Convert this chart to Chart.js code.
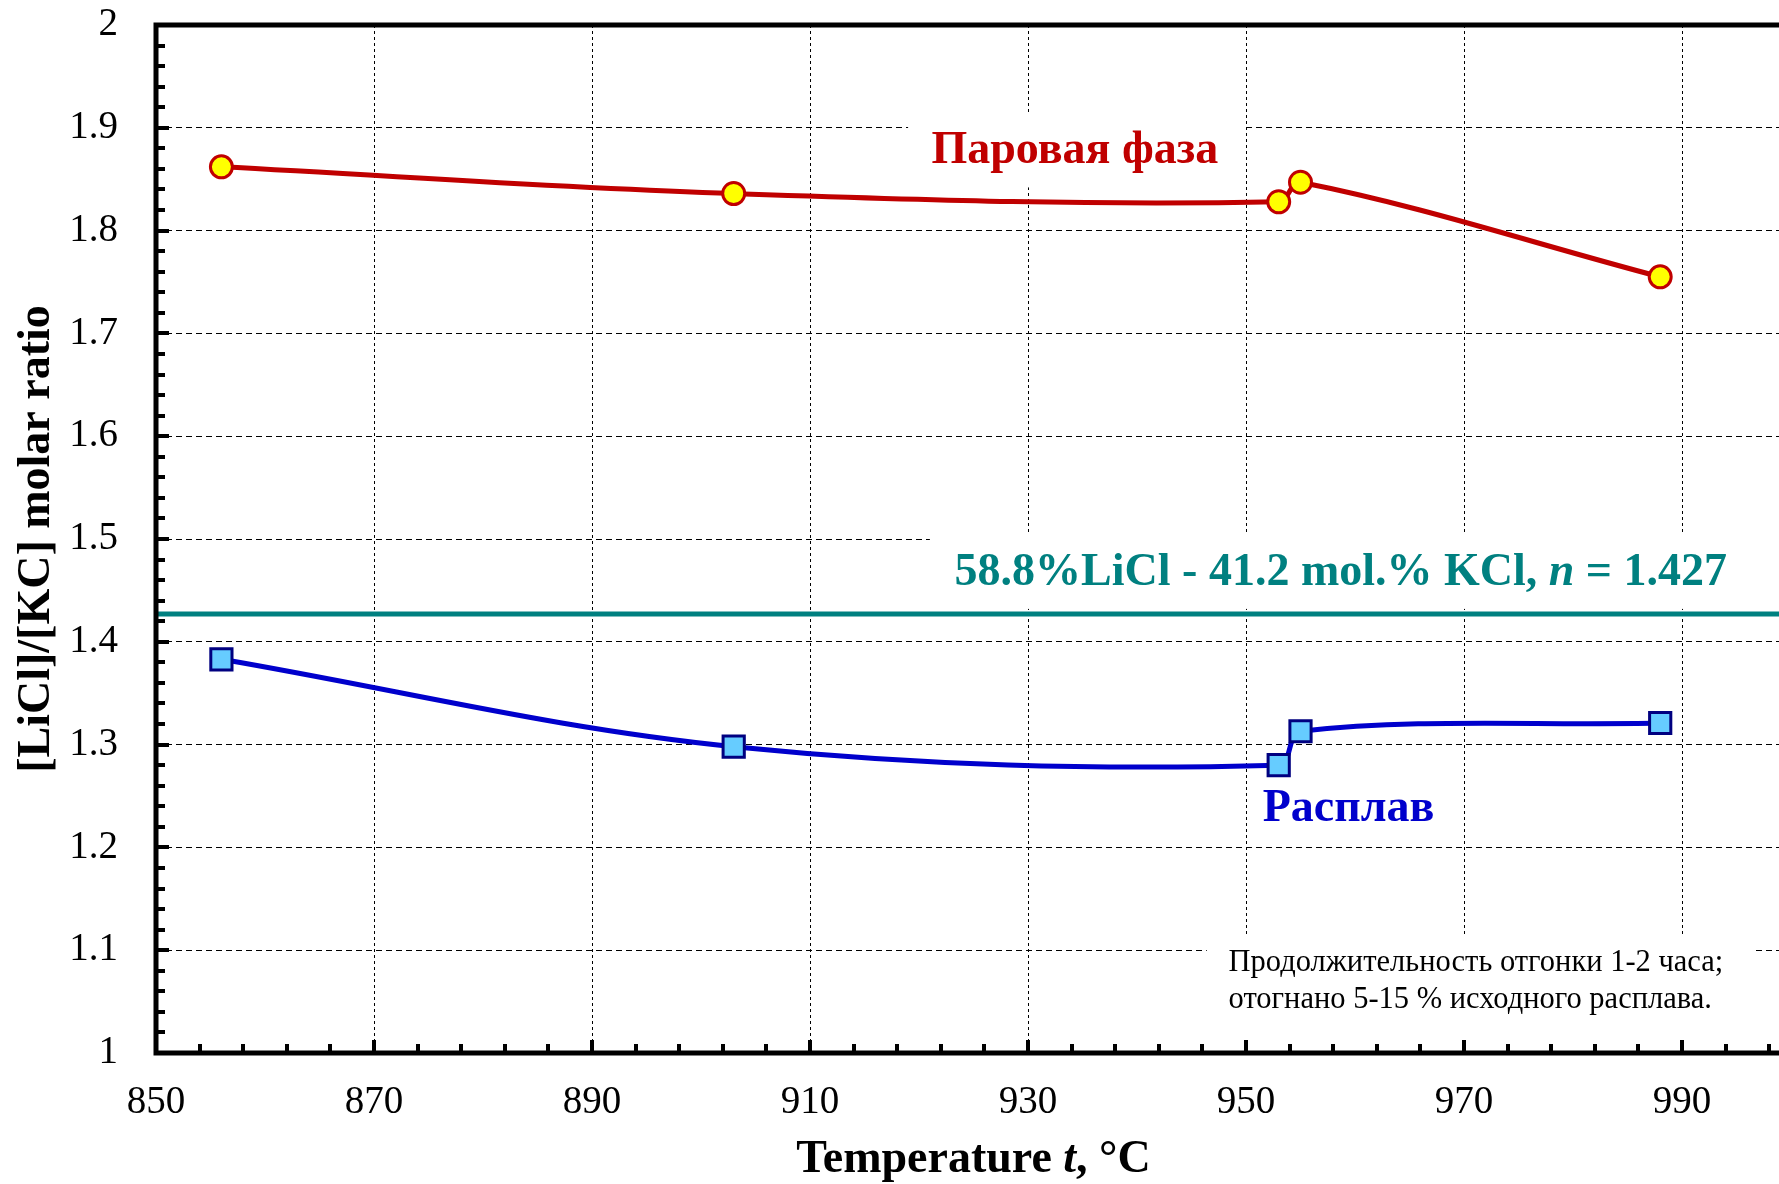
<!DOCTYPE html>
<html>
<head>
<meta charset="utf-8">
<script src="https://cdn.jsdelivr.net/npm/chart.js@4.4.1/dist/chart.umd.min.js"></script>
<style>
  html, body { margin: 0; padding: 0; background: #fff; overflow: hidden; }
</style>
</head>
<body>
<canvas id="chart" width="1800" height="1184"></canvas>
<script>
// temperatures, °C
const temps = [856, 903, 953, 955, 988];
// [LiCl]/[KCl] ratio in vapour and in melt
const vaporRatio = [1.862, 1.836, 1.828, 1.847, 1.755];
const meltRatio = [1.383, 1.298, 1.280, 1.313, 1.321];
// initial melt composition
const baseRatio = 1.427;
const baseSpan = [850, 1000];

const xTicks = [850, 870, 890, 910, 930, 950, 970, 990];
const yTicks = [1, 1.1, 1.2, 1.3, 1.4, 1.5, 1.6, 1.7, 1.8, 1.9, 2];

const SERIF = '"Liberation Serif", "Times New Roman", serif';

function drawRich(ctx, parts, x, y, align) {
  let w = 0;
  parts.forEach(p => { ctx.font = p.font; p.w = ctx.measureText(p.t).width; w += p.w; });
  let cx = align === 'center' ? x - w / 2 : x;
  parts.forEach(p => { ctx.font = p.font; ctx.fillText(p.t, cx, y); cx += p.w; });
  return w;
}

// white rectangle given in data units
function clearBox(ctx, x, y, x0, x1, y0, y1) {
  const l = x.getPixelForValue(x0), r = x.getPixelForValue(x1);
  const t = y.getPixelForValue(y1), b = y.getPixelForValue(y0);
  ctx.fillRect(l, t, r - l, b - t);
}

const frame = {
  id: 'frame',
  beforeDatasetsDraw(chart) {
    const { ctx, scales: { x, y } } = chart;
    ctx.save();
    ctx.fillStyle = '#fff';
    // white boxes behind text labels
    clearBox(ctx, x, y, 919, 949.8, 1.842, 1.914);
    clearBox(ctx, x, y, 921, 1005, 1.432, 1.504);
    clearBox(ctx, x, y, 946.4, 996.7, 1.011, 1.113);
    ctx.restore();
  },
  afterDraw(chart) {
    const { ctx, chartArea: a, scales: { x, y } } = chart;
    ctx.save();
    ctx.strokeStyle = '#000';
    ctx.lineCap = 'butt';

    // minor / major ticks, pointing inward
    ctx.lineWidth = 4;
    ctx.beginPath();
    for (let v = 850; v <= 1000; v += 4) {
      const px = Math.round(x.getPixelForValue(v));
      const len = (v - 850) % 20 === 0 ? 13 : 9;
      ctx.moveTo(px, a.bottom); ctx.lineTo(px, a.bottom - len);
    }
    for (let i = 0; i <= 50; i++) {
      const py = Math.round(y.getPixelForValue(1 + i * 0.02));
      const len = i % 5 === 0 ? 13 : 9;
      ctx.moveTo(a.left, py); ctx.lineTo(a.left + len, py);
    }
    ctx.stroke();

    // axis frame: left, bottom, top
    ctx.lineWidth = 5;
    ctx.lineCap = 'square';
    ctx.beginPath();
    ctx.moveTo(a.right + 10, a.top);
    ctx.lineTo(a.left, a.top);
    ctx.lineTo(a.left, a.bottom);
    ctx.lineTo(a.right + 10, a.bottom);
    ctx.stroke();

    ctx.textBaseline = 'middle';
    ctx.textAlign = 'left';

    // series labels
    ctx.fillStyle = '#c00000';
    drawRich(ctx, [{ t: 'Паровая фаза', font: 'bold 46px ' + SERIF }],
      x.getPixelForValue(934.3), y.getPixelForValue(1.877), 'center');
    ctx.fillStyle = '#0000cc';
    drawRich(ctx, [{ t: 'Расплав', font: 'bold 46px ' + SERIF }],
      x.getPixelForValue(959.4), y.getPixelForValue(1.237), 'center');
    ctx.fillStyle = '#008080';
    drawRich(ctx, [
      { t: '58.8%LiCl - 41.2 mol.% KCl, ', font: 'bold 46px ' + SERIF },
      { t: 'n', font: 'italic bold 46px ' + SERIF },
      { t: ' = 1.427', font: 'bold 46px ' + SERIF }
    ], x.getPixelForValue(958.7), y.getPixelForValue(1.467), 'center');

    // note
    ctx.fillStyle = '#000';
    drawRich(ctx, [{ t: 'Продолжительность отгонки 1-2 часа;', font: '30.5px ' + SERIF }],
      x.getPixelForValue(948.4), y.getPixelForValue(1.0875), 'left');
    drawRich(ctx, [{ t: 'отогнано 5-15 % исходного расплава.', font: '30.5px ' + SERIF }],
      x.getPixelForValue(948.4), y.getPixelForValue(1.0516), 'left');

    // axis titles
    drawRich(ctx, [
      { t: 'Temperature ', font: 'bold 46px ' + SERIF },
      { t: 't', font: 'italic bold 46px ' + SERIF },
      { t: ', °C', font: 'bold 46px ' + SERIF }
    ], (a.left + a.right) / 2, 1160, 'center');

    ctx.translate(37, (a.top + a.bottom) / 2);
    ctx.rotate(-Math.PI / 2);
    drawRich(ctx, [{ t: '[LiCl]/[KC] molar ratio', font: 'bold 46px ' + SERIF }], 0, 0, 'center');
    ctx.restore();
  }
};

const xy = (xs, ys) => xs.map((v, i) => ({ x: v, y: ys[i] }));

new Chart(document.getElementById('chart').getContext('2d'), {
  type: 'line',
  data: {
    datasets: [
      {
        label: 'Base',
        data: baseSpan.map(v => ({ x: v, y: baseRatio })),
        borderColor: '#008080',
        borderWidth: 5,
        pointRadius: 0,
        tension: 0
      },
      {
        label: 'Паровая фаза',
        data: xy(temps, vaporRatio),
        borderColor: '#c00000',
        borderWidth: 5,
        pointStyle: 'circle',
        pointRadius: 11,
        pointBackgroundColor: '#ffff00',
        pointBorderColor: '#c00000',
        pointBorderWidth: 3,
        tension: 0.35
      },
      {
        label: 'Расплав',
        data: xy(temps, meltRatio),
        borderColor: '#0000cc',
        borderWidth: 5,
        pointStyle: 'rect',
        pointRadius: 15,
        pointBackgroundColor: '#66ccff',
        pointBorderColor: '#000080',
        pointBorderWidth: 3,
        tension: 0.35
      }
    ]
  },
  options: {
    responsive: false,
    animation: false,
    devicePixelRatio: 1,
    layout: { autoPadding: false, padding: { left: 0, top: 25, right: 9, bottom: 0 } },
    plugins: {
      legend: { display: false },
      tooltip: { enabled: false }
    },
    scales: {
      x: {
        type: 'linear',
        min: 850,
        max: 1000,
        afterBuildTicks: s => { s.ticks = xTicks.map(v => ({ value: v })); },
        afterFit: s => { s.height = 131; },
        border: { display: false, dash: [3, 3] },
        grid: {
          drawTicks: false,
          color: ctx => (ctx.tick && ctx.tick.value === 850 ? 'rgba(0,0,0,0)' : '#000'),
          lineWidth: 1
        },
        ticks: {
          padding: 26,
          color: '#000',
          font: { family: SERIF, size: 39 }
        }
      },
      y: {
        type: 'linear',
        min: 1,
        max: 2,
        afterBuildTicks: s => { s.ticks = yTicks.map(v => ({ value: v })); },
        afterFit: s => { s.width = 156; },
        border: { display: false, dash: [6, 4] },
        grid: {
          drawTicks: true,
          tickLength: 38,
          tickColor: 'rgba(0,0,0,0)',
          color: '#000',
          lineWidth: 1
        },
        ticks: {
          padding: 0,
          color: '#000',
          font: { family: SERIF, size: 39, lineHeight: 0.5 },
          callback: v => String(Math.round(v * 10) / 10)
        }
      }
    }
  },
  plugins: [frame]
});
</script>
</body>
</html>
